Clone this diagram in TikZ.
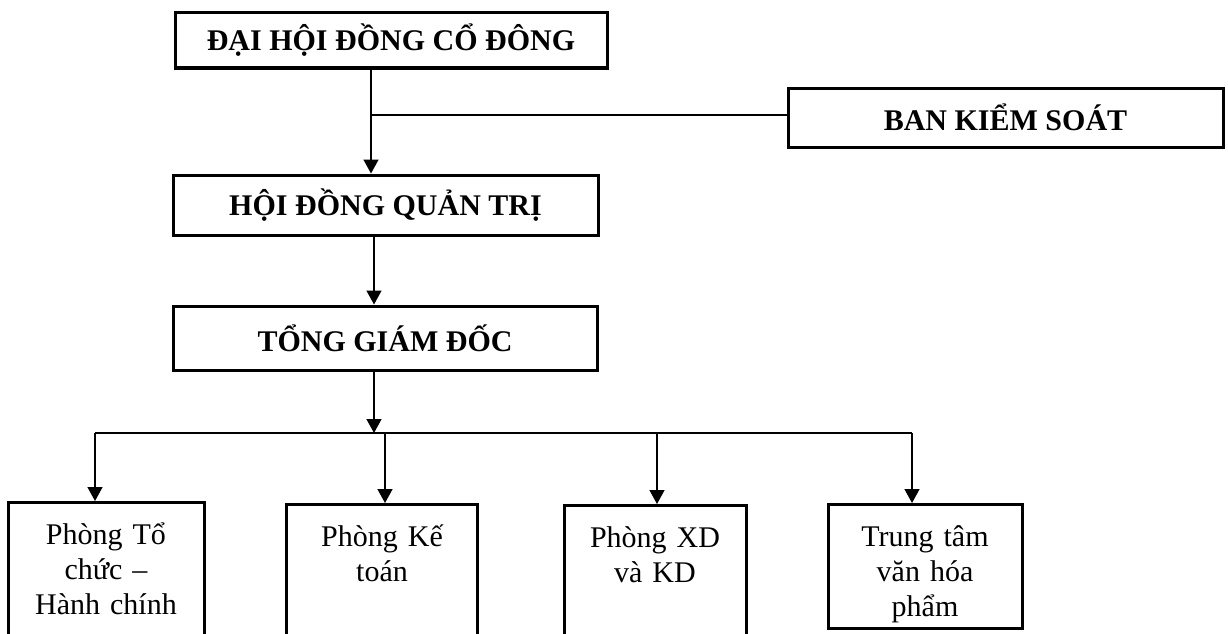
\documentclass[tikz,border=0pt]{standalone}
\usepackage{fontspec}
\setmainfont{Liberation Serif}
\usetikzlibrary{arrows.meta, positioning}

\begin{document}
\begin{tikzpicture}[x=1pt, y=-1pt, line width=1.5pt,
    >={Triangle[width=15pt, length=14pt]},
    head/.style={draw, line width=3pt, inner sep=0pt, font=\fontsize{30}{36}\selectfont\bfseries},
    dept/.style={draw, line width=3pt, anchor=north, inner xsep=0pt, inner ysep=0pt,
      text height=42pt, text depth=150pt, align=center, font=\fontsize{30}{35}\selectfont}]
  \useasboundingbox (0,0) rectangle (1228,634);
  % cap lanh dao
  \node[head, minimum width=432pt, minimum height=55pt] (dhcd) at (391,40.5) {ĐẠI HỘI ĐỒNG CỔ ĐÔNG};
  \node[head, minimum width=435pt, minimum height=59pt] (bks)  at (1005.5,117.5) {BAN KIỂM SOÁT};
  \node[head, minimum width=425pt, minimum height=60pt] (hdqt) at (385.5,205) {HỘI ĐỒNG QUẢN TRỊ};
  \node[head, minimum width=424pt, minimum height=64pt] (tgd)  at (385,338) {TỔNG GIÁM ĐỐC};
  % cac phong ban
  \node[dept, text width=196pt] (tchc) at (106,501) {Phòng Tổ\\chức –\\Hành chính};
  \node[dept, text width=191pt] (kt)   at (382,503) {Phòng Kế\\toán};
  \node[dept, text width=182pt] (xd)   at (655,504) {Phòng XD\\và KD};
  \node[dept, text width=194pt, text depth=82pt] (ttvh) at (925,503) {Trung tâm\\văn hóa\\phẩm};
  % duong noi
  \coordinate (ks) at (371,115);
  \coordinate (truc) at (374,433);
  \draw[->] (ks |- dhcd.south) -- (ks |- hdqt.north);
  \draw (ks) -- (ks -| bks.west);
  \draw[->] (truc |- hdqt.south) -- (truc |- tgd.north);
  \draw[->] (truc |- tgd.south) -- (truc);
  \foreach \x/\n in {95/tchc, 385/kt, 657/xd, 912/ttvh} {
    \coordinate (r-\n) at (\x,433);
    \draw[->] (r-\n) -- (r-\n |- \n.north);
  }
  \draw (r-tchc) -- (r-ttvh);
\end{tikzpicture}
\end{document}
